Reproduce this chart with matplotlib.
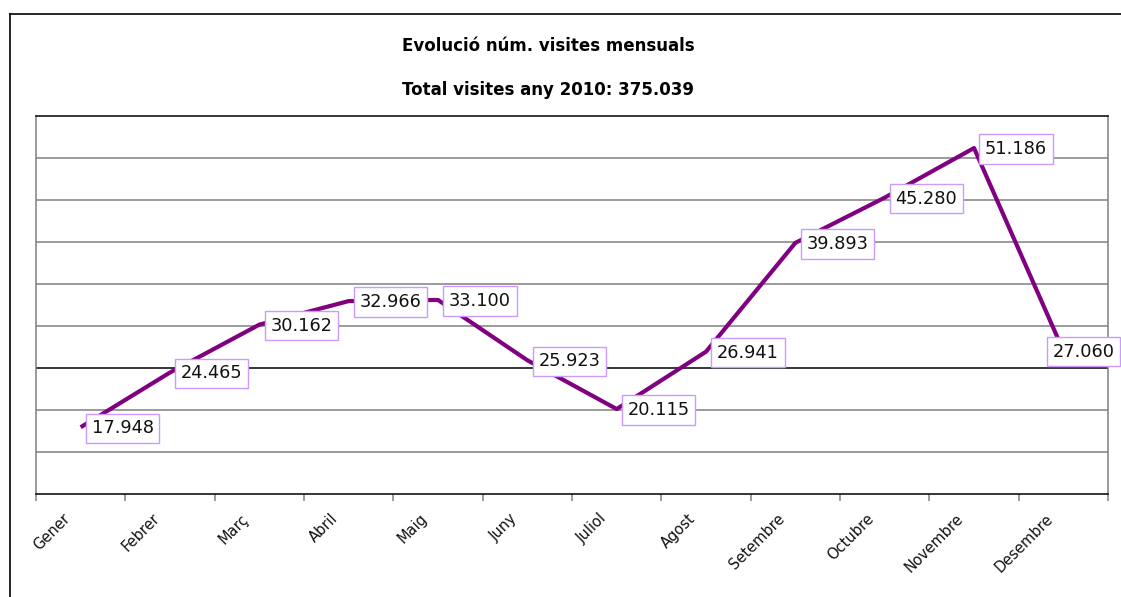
import numpy as np
import matplotlib.pyplot as plt
import matplotlib.transforms as mtransforms
from matplotlib.lines import Line2D

months = ['Gener', 'Febrer', 'Març', 'Abril', 'Maig', 'Juny', 'Juliol',
          'Agost', 'Setembre', 'Octubre', 'Novembre', 'Desembre']
visits = [17948, 24465, 30162, 32966, 33100, 25923, 20115,
          26941, 39893, 45280, 51186, 27060]
labels = ['17.948', '24.465', '30.162', '32.966', '33.100', '25.923', '20.115',
          '26.941', '39.893', '45.280', '51.186', '27.060']
title1 = 'Evolució núm. visites mensuals'
title2 = 'Total visites any 2010: 375.039'

W, H = 1121, 597
fig = plt.figure(figsize=(W / 100, H / 100), dpi=100)
ax = fig.add_axes([36 / W, 1 - 494 / H, (1108 - 36) / W, (494 - 116) / H])

# outer chart border (only left and top visible)
fig.add_artist(Line2D([10 / W, 10 / W], [0, 1 - 14 / H], color='black', lw=1.2))
fig.add_artist(Line2D([10 / W, 1], [1 - 14 / H, 1 - 14 / H], color='black', lw=1.2))

ax.set_xlim(-0.5, 11.5)
ax.set_ylim(10000, 55000)

# gridlines
for g in range(15000, 55000, 5000):
    ax.axhline(g, color='black' if g == 25000 else '#808080', lw=1.1, zorder=1)

ax.plot(range(len(visits)), visits, color='#800080', lw=3,
        solid_joinstyle='round', solid_capstyle='butt', zorder=3)

for i, (v, lab) in enumerate(zip(visits, labels)):
    dx = -11 if i == len(visits) - 1 else 11
    ax.annotate(lab, (i, v), xytext=(dx, -1), textcoords='offset pixels',
                ha='left', va='center', fontsize=12.8, color='#111111', zorder=5,
                annotation_clip=False,
                bbox=dict(boxstyle='square,pad=0.32', fc='white', ec='#cc99ff', lw=1))

# month labels, rotated, ending a little left of each category centre
ax.set_xticks(range(12))
ax.set_xticklabels([])
ax.tick_params(axis='x', which='major', length=0)
lab_tr = ax.get_xaxis_transform() + mtransforms.ScaledTranslation(
    -0.18, -0.17, fig.dpi_scale_trans)
for i, m in enumerate(months):
    ax.text(i, 0, m, transform=lab_tr, rotation=45, ha='right', va='top',
            rotation_mode='anchor', fontsize=10.5, color='#111111')

ax.set_xticks(np.arange(-0.5, 12, 1), minor=True)
ax.tick_params(axis='x', which='minor', length=5, width=1.1, color='#808080')
ax.set_yticks([])

for s in ['left', 'right']:
    ax.spines[s].set_color('#808080')
ax.spines['top'].set_color('black')
ax.spines['bottom'].set_color('black')
for s in ax.spines.values():
    s.set_linewidth(1.1)

fig.text(548 / W, 1 - 46 / H, title1, ha='center', va='center',
         fontsize=12, fontweight='bold')
fig.text(548 / W, 1 - 90 / H, title2, ha='center', va='center',
         fontsize=12, fontweight='bold')

fig.savefig('out.png', dpi=100)
